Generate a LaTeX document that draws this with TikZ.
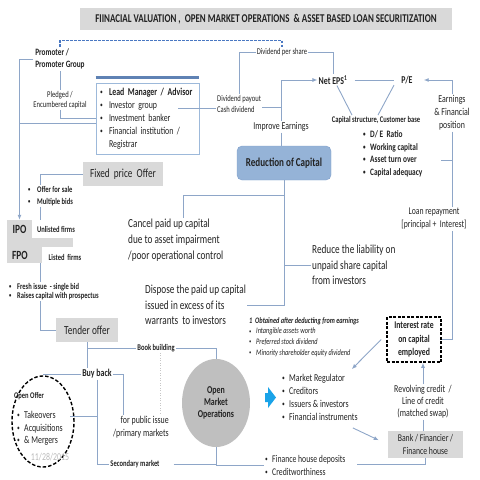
\documentclass[tikz,border=0pt]{standalone}
\usepackage{fontspec}
\setmainfont{Carlito}[FakeStretch=0.75]
\usetikzlibrary{arrows.meta,positioning,shapes.geometric,calc}
\definecolor{Ln}{HTML}{8EA6C8}
\definecolor{Dl}{HTML}{4A78C2}
\definecolor{Gb}{HTML}{D9D9D9}
\definecolor{Rc}{HTML}{95B3D7}
\definecolor{Rd}{HTML}{7F9FCB}
\definecolor{Om}{HTML}{BFBFBF}
\definecolor{Cy}{HTML}{1AA3E8}
\definecolor{Lb}{HTML}{9DB9DA}
\definecolor{Bar}{HTML}{5F82B4}
\definecolor{Tx}{HTML}{222222}
\newcommand{\bul}[1][7pt]{\makebox[#1][l]{\raisebox{0.1em}{\scalebox{0.7}{\textbullet}}}}

\begin{document}
\begin{tikzpicture}[x=1pt, y=-1pt, every node/.append style={text=Tx},
    ln/.style={draw=Ln, line width=0.9pt},
    arr/.style={ln, -{Latex[length=5pt,width=4pt]}},
    dln/.style={draw=Dl, line width=1.2pt, dash pattern=on 2.5pt off 1.5pt},
    dotln/.style={draw=gray!45, line width=0.8pt, dash pattern=on 1pt off 1.5pt},
    gbox/.style={fill=Gb, inner sep=0pt},
    fA/.style={font=\fontsize{10.5}{12.8}\selectfont, inner sep=1pt},
    fB/.style={font=\fontsize{12.3}{15.8}\selectfont, inner sep=1pt},
    fS/.style={font=\fontsize{8.7}{11}\selectfont, inner sep=1pt},
    bS/.style={font=\fontsize{8.7}{11}\selectfont\bfseries, inner sep=1pt}]
  \useasboundingbox (0,0) rectangle (480,480);

  % title
  \node[gbox, minimum width=372, minimum height=22, font=\fontsize{11.9}{13}\selectfont\bfseries] (title) at (266,19)
    {FIINACIAL VALUATION ,~~OPEN MARKET OPERATIONS~~\& ASSET BASED LOAN SECURITIZATION};

  % left column
  \node[font=\fontsize{9.7}{12}\selectfont\bfseries, align=left, inner sep=2pt] (prom) at (60,59) {Promoter /\\Promoter Group};
  \node[fS, align=center, font=\fontsize{8.8}{10}\selectfont] (pledge) at (60,100) {Pledged /\\Encumbered capital};
  \node[draw=Lb, line width=0.6pt, minimum width=103, minimum height=71, text width=95, inner sep=4pt,
        align=left, font=\fontsize{10.5}{12.9}\selectfont] (lead) at (147.5,118.5)
    {\bul[9pt]\textbf{Lead Manager / Advisor}\\ \bul[9pt]Investor group\\ \bul[9pt]Investment banker\\
     \bul[9pt]Financial institution /\\ \hspace*{9pt}Registrar};
  \draw[draw=Bar, line width=2.5pt] ([yshift=5pt]lead.north west) -- ([yshift=5pt]lead.north east);

  \node[gbox, minimum width=80, minimum height=24, fB] (fixed) at (123,174) {Fixed~~price~~Offer};
  \node[bS, anchor=west, align=left, font=\fontsize{8.7}{11.7}\selectfont\bfseries] (ofs) at (27,196) {\bul[9pt]Offer for sale\\ \bul[9pt]Multiple bids};
  \node[gbox, minimum width=66, minimum height=9] (band) at (40,242.5) {};
  \node[gbox, minimum width=25, minimum height=18, font=\fontsize{12.5}{14}\selectfont\bfseries] (ipo) at (19.5,229) {IPO};
  \node[gbox, minimum width=35, minimum height=16, font=\fontsize{12.5}{14}\selectfont\bfseries] (fpo) at (24.5,255) {FPO\hspace*{9pt}};
  \node[bS] (unl) at (56,229) {Unlisted firms};
  \node[bS] (lst) at (65,257) {Listed~~firms};
  \node[bS, anchor=west, align=left, font=\fontsize{8.7}{9.5}\selectfont\bfseries] (fresh) at (8,291.5)
    {\bul[8pt]Fresh issue~~- single bid\\ \bul[8pt]Raises capital with prospectus};
  \node[gbox, minimum width=62, minimum height=24, fB] (tender) at (87,330) {Tender offer};

  % bottom left
  \node[bS] (book) at (156,348) {Book building};
  \node[fA, font=\fontsize{10.5}{12.8}\selectfont\bfseries] (buyback) at (97,374) {Buy back};
  \node[draw=black, line width=1.4pt, dash pattern=on 3.5pt off 2pt, ellipse, minimum width=62, minimum height=91] (oo) at (43,421.5) {};
  \node[bS] (ootitle) at (29,396) {Open Offer};
  \node[fA, anchor=west, align=left, font=\fontsize{10.5}{12.5}\selectfont] (oolist) at (16,428.5)
    {\bul Takeovers\\ \bul Acquisitions\\ \bul\& Mergers};
  \node[fA, text=gray!55] (date) at (50,457) {11/28/2015};
  \node[fA, anchor=east, align=right, font=\fontsize{10.5}{12.5}\selectfont] (forpub) at (170,427) {for public issue\\/primary markets};
  \node[bS] (sec) at (135,464) {Secondary market};
  \node[ellipse, fill=Om, minimum width=68, minimum height=88, inner sep=0pt, align=center,
        font=\fontsize{10.5}{12}\selectfont\bfseries] (omo) at (216,403) {Open\\Market\\Operations};

  % centre
  \node[fB, anchor=west, align=left, font=\fontsize{12.3}{16}\selectfont] (cancel) at (127,240)
    {Cancel paid up capital\\due to asset impairment\\/poor operational control};
  \node[fB, anchor=west, align=left, font=\fontsize{12.3}{15.7}\selectfont] (dispose) at (144,305)
    {Dispose the paid up capital\\issued in excess of its\\warrants~~to investors};
  \node[fB, anchor=west, align=left, font=\fontsize{12.3}{15.5}\selectfont] (reduce) at (311,265)
    {Reduce the liability on\\unpaid share capital\\from investors};
  \node[fill=Rc, draw=Rd, rounded corners=5pt, minimum width=94, minimum height=34,
        font=\fontsize{12.1}{14}\selectfont\bfseries] (red) at (284,163) {Reduction of Capital};
  \node[fA] (imp) at (281,127) {Improve Earnings};
  \node[fS, anchor=west, align=left, font=\fontsize{8.8}{11}\selectfont] (divpay) at (216,103.5) {Dividend payout\\Cash dividend};
  \node[fS, font=\fontsize{8.8}{10}\selectfont] (dps) at (282,52) {Dividend per share};
  \node[font=\fontsize{10.5}{12}\selectfont\bfseries, inner sep=1pt] (eps) at (333,80) {Net EPS\textsuperscript{1}};
  \node[font=\fontsize{10.5}{12}\selectfont\bfseries, inner sep=1pt] (pe) at (407,80) {P/E};
  \node[bS] (cs) at (376,120) {Capital structure, Customer base};
  \node[anchor=west, align=left, inner sep=1pt, font=\fontsize{9.8}{12.6}\selectfont\bfseries] (caplist) at (362,154)
    {\bul D/ E~~Ratio\\ \bul Working capital\\ \bul Asset turn over\\ \bul Capital adequacy};

  % right column
  \node[fA, align=center, font=\fontsize{10.5}{13}\selectfont] (earn) at (452,113) {Earnings\\\& Financial\\position};
  \node[fA, align=center, font=\fontsize{10.3}{13}\selectfont] (loan) at (434,219) {Loan repayment\\{[}principal +~~Interest{]}};
  \node[draw=black, line width=1.6pt, dash pattern=on 3pt off 1.5pt, minimum width=54, minimum height=45,
        align=center, inner sep=0pt, font=\fontsize{10.3}{13.5}\selectfont\bfseries] (intr) at (414,339.5)
    {Interest rate\\on capital\\employed};
  \node[fA, align=center, font=\fontsize{10.5}{12}\selectfont] (rev) at (423,402) {Revolving credit~~/\\Line of credit\\(matched swap)};
  \node[gbox, minimum width=75, minimum height=27, align=center, font=\fontsize{10.3}{13.5}\selectfont] (bank) at (425.5,444.5)
    {Bank / Financier /\\Finance house};

  % bottom centre
  \node[anchor=west, align=left, inner sep=1pt, font=\fontsize{8.4}{10.6}\selectfont\itshape] (fn) at (248,337)
    {\textbf{1~~Obtained after deducting from earnings}\\ \bul Intangible assets worth\\ \bul Preferred stock dividend\\
     \bul Minority shareholder equity dividend};
  \node[fA, anchor=west, align=left, font=\fontsize{10.5}{13}\selectfont] (mkt) at (281,397.5)
    {\bul Market Regulator\\ \bul Creditors\\ \bul Issuers \& investors\\ \bul Financial instruments};
  \node[fA, anchor=west, align=left, font=\fontsize{10.3}{13}\selectfont] (fhd) at (264,465.5)
    {\bul Finance house deposits\\ \bul Creditworthiness};
  \fill[Cy] (265,393) -- (268,393) -- (268,387) -- (276,397.5) -- (268,408) -- (268,402) -- (265,402) -- cycle;

  % connectors: promoter side
  \coordinate (cx) at (40,0);
  \coordinate (invg) at (178,108);
  \draw[dln] (prom.north) -- ++(0,-6) -| (dps.north);
  \draw[arr] (prom.west) -| (ipo.north);
  \draw[ln] (prom.south) -- (pledge.north);
  \draw[ln] (pledge.south) |- (lead.west);
  \draw[ln] ([yshift=-5pt]lead.west) -- ([yshift=-5pt]lead.west -| ipo.north);
  \draw[ln] (invg) -- (invg -| divpay.west);
  \draw[ln] (dps.west) -| (divpay.north);
  \draw[ln] (dps.east) -| (eps.north);
  \draw[arr] (imp.north) |- (eps.west);
  \draw[ln] ([yshift=-4pt]divpay.east) -| (imp.north);
  \draw[ln] (imp.south) -- (imp.south |- red.north);
  \draw[ln, shorten <=6pt, shorten >=6pt] (eps.east) -- (pe.west);
  \draw[ln] ([xshift=4pt]eps.south) -- ([xshift=-24pt]cs.north);
  \draw[ln] ([xshift=-13pt]pe.south) -- ([xshift=2pt]cs.north);

  % capital structure / right column
  \coordinate (atv) at (441,160);
  \draw[arr, shorten >=10pt] (earn.north) |- (pe.east);
  \draw[ln] (earn.south) -- (earn.south |- loan.north);
  \draw[ln] (earn.south |- loan.south) |- (intr.east);
  \draw[ln] (atv) -- (atv -| earn.south);
  \draw[arr] (rev.north) -- (rev.north |- intr.south);
  \draw[ln] (rev.south) -- (rev.south |- bank.north);
  \draw[arr] ([xshift=-5pt]intr.west) -- ([xshift=-7pt,yshift=4pt]mkt.north east);
  \draw[arr, shorten >=10pt] ([xshift=-6pt,yshift=-6pt]mkt.south east) -- (bank.west);

  % reduction branches
  \draw[ln] (red.south) |- (dispose.east);
  \draw[ln] (red.south) ++(0,15) -| ([xshift=8pt]cancel.north);
  \draw[ln] (red.south |- reduce.west) -- (reduce.west);

  % issue column
  \draw[ln] (fixed.west) -| (cx |- ofs.north);
  \draw[ln] (cx |- ofs.south) -- (cx |- ipo.north);
  \draw[ln] (cx |- fpo.south) -- (cx |- fresh.north);
  \draw[ln] (cx |- fresh.south) |- (tender.west);

  % open market side
  \coordinate (tko) at (70,416);
  \coordinate (fhde) at (357,464);
  \draw[ln] (tender.south) -- (tender.south |- buyback.north);
  \draw[ln] (tender.south |- book.west) -- (book.west);
  \draw[ln] (book.east) -| (omo.north);
  \draw[dotln] ([xshift=4pt]book.south) -- ([xshift=4pt]book.south |- forpub.north);
  \draw[ln] (buyback.east) -| ([xshift=-18pt]forpub.north);
  \draw[ln] (buyback.west) -| (oo.north);
  \draw[ln] (buyback.south) |- (sec.west);
  \draw[ln] (tko) -- (tko -| buyback.south);
  \draw[ln] ([xshift=13pt]sec.east) -- (sec.east -| omo.south);
  \draw[ln] (omo.south) |- (fhd.west);
  \draw[ln] (fhde) -| (bank.south);
\end{tikzpicture}
\end{document}
